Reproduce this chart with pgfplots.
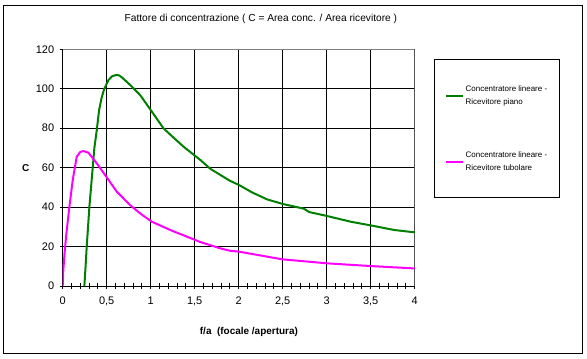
\documentclass[border=0pt]{standalone}
\usepackage{fontspec}
\setmainfont{Liberation Sans}
\usepackage{pgfplots}
\pgfplotsset{compat=1.18}
\definecolor{exgreen}{RGB}{0,128,0}
\definecolor{exmag}{RGB}{255,0,255}
\begin{document}
\begin{tikzpicture}
\path[use as bounding box] (-62.7bp,-73bp) rectangle (524.3bp,286bp);
\draw[black, line width=0.8bp] (-59.7bp,-67bp) rectangle (519.3bp,281bp);
\begin{axis}[
  at={(0,0)}, anchor=south west,
  scale only axis, width=352bp, height=236.7bp,
  xmin=0, xmax=4, ymin=0, ymax=120,
  xtick={0,0.5,1,1.5,2,2.5,3,3.5,4},
  xticklabels={0,{0,5},1,{1,5},2,{2,5},3,{3,5},4},
  ytick={0,20,40,60,80,100,120},
  minor x tick num=4,
  axis x line*=bottom, axis y line*=left,
  axis line style={black, line width=0.8bp, -},
  tick align=center,
  major tick length=6bp, minor tick length=6bp,
  tick style={black, line width=0.8bp},
  grid=major,
  major grid style={black, line width=0.8bp},
  /pgf/number format/assume math mode=true,
  tick label style={font=\fontsize{11}{12}\selectfont},
  yticklabel style={xshift=-2bp},
  xticklabel style={yshift=-4bp},
  title={Fattore di concentrazione ( C = Area conc. / Area ricevitore )},
  title style={at={(axis description cs:0.563,1.103)}, anchor=center, font=\fontsize{10.2}{11}\selectfont},
  xlabel={f/a\ \ (focale /apertura)},
  xlabel style={at={(axis description cs:0.529,-0.193)}, anchor=center, font=\bfseries\fontsize{10}{12}\selectfont},
  ylabel={C},
  ylabel style={at={(axis description cs:-0.105,0.4985)}, anchor=center, rotate=-90, font=\bfseries\fontsize{10}{12}\selectfont},
  legend style={at={(axis description cs:1.0557,0.959)}, anchor=north west, draw=black, line width=0.8bp,
    inner xsep=10bp, inner ysep=24bp, row sep=42bp, font=\fontsize{8}{13}\selectfont, cells={align=left}},
  legend cell align=left,
]
\draw[gray, line width=0.8bp] (axis cs:0,120) -- (axis cs:4,120) -- (axis cs:4,0);
\addplot[exgreen, line width=2bp] coordinates {
(0.246,0) (0.26,10) (0.273,20) (0.303,40) (0.341,60) (0.36,70) (0.387,79) (0.413,89)
(0.44,95) (0.47,99.7) (0.52,104.4) (0.56,106.3) (0.607,107) (0.64,106.8) (0.672,105.8)
(0.767,101.9) (0.88,96.8) (1.013,88.4) (1.146,79.9) (1.26,75.2) (1.374,70.6) (1.507,65.9)
(1.564,63.9) (1.678,59.4) (1.898,53.4) (2.004,51.2) (2.15,47.5) (2.323,43.9) (2.50,41.6)
(2.74,39.2) (2.80,37.5) (3.003,35.5) (3.272,32.6) (3.504,30.7) (3.766,28.4) (4.0,27.2)
};
\addlegendentry{Concentratore lineare -\\Ricevitore piano}
\addplot[exmag, line width=2bp] coordinates {
(0,0) (0.007,8) (0.02,16) (0.038,25) (0.076,40.2) (0.114,53.7) (0.159,65.5) (0.2,68)
(0.235,68.4) (0.292,67.6) (0.387,62.2) (0.508,54.6) (0.615,47.8) (0.767,41) (0.88,36.8)
(1.013,32.6) (1.222,28.4) (1.507,23.3) (1.564,22.3) (1.79,19.1) (1.898,17.9) (2.004,17.4)
(2.50,13.5) (3.003,11.5) (3.504,10.1) (4.0,8.9)
};
\addlegendentry{Concentratore lineare -\\Ricevitore tubolare}
\end{axis}
\end{tikzpicture}
\end{document}
